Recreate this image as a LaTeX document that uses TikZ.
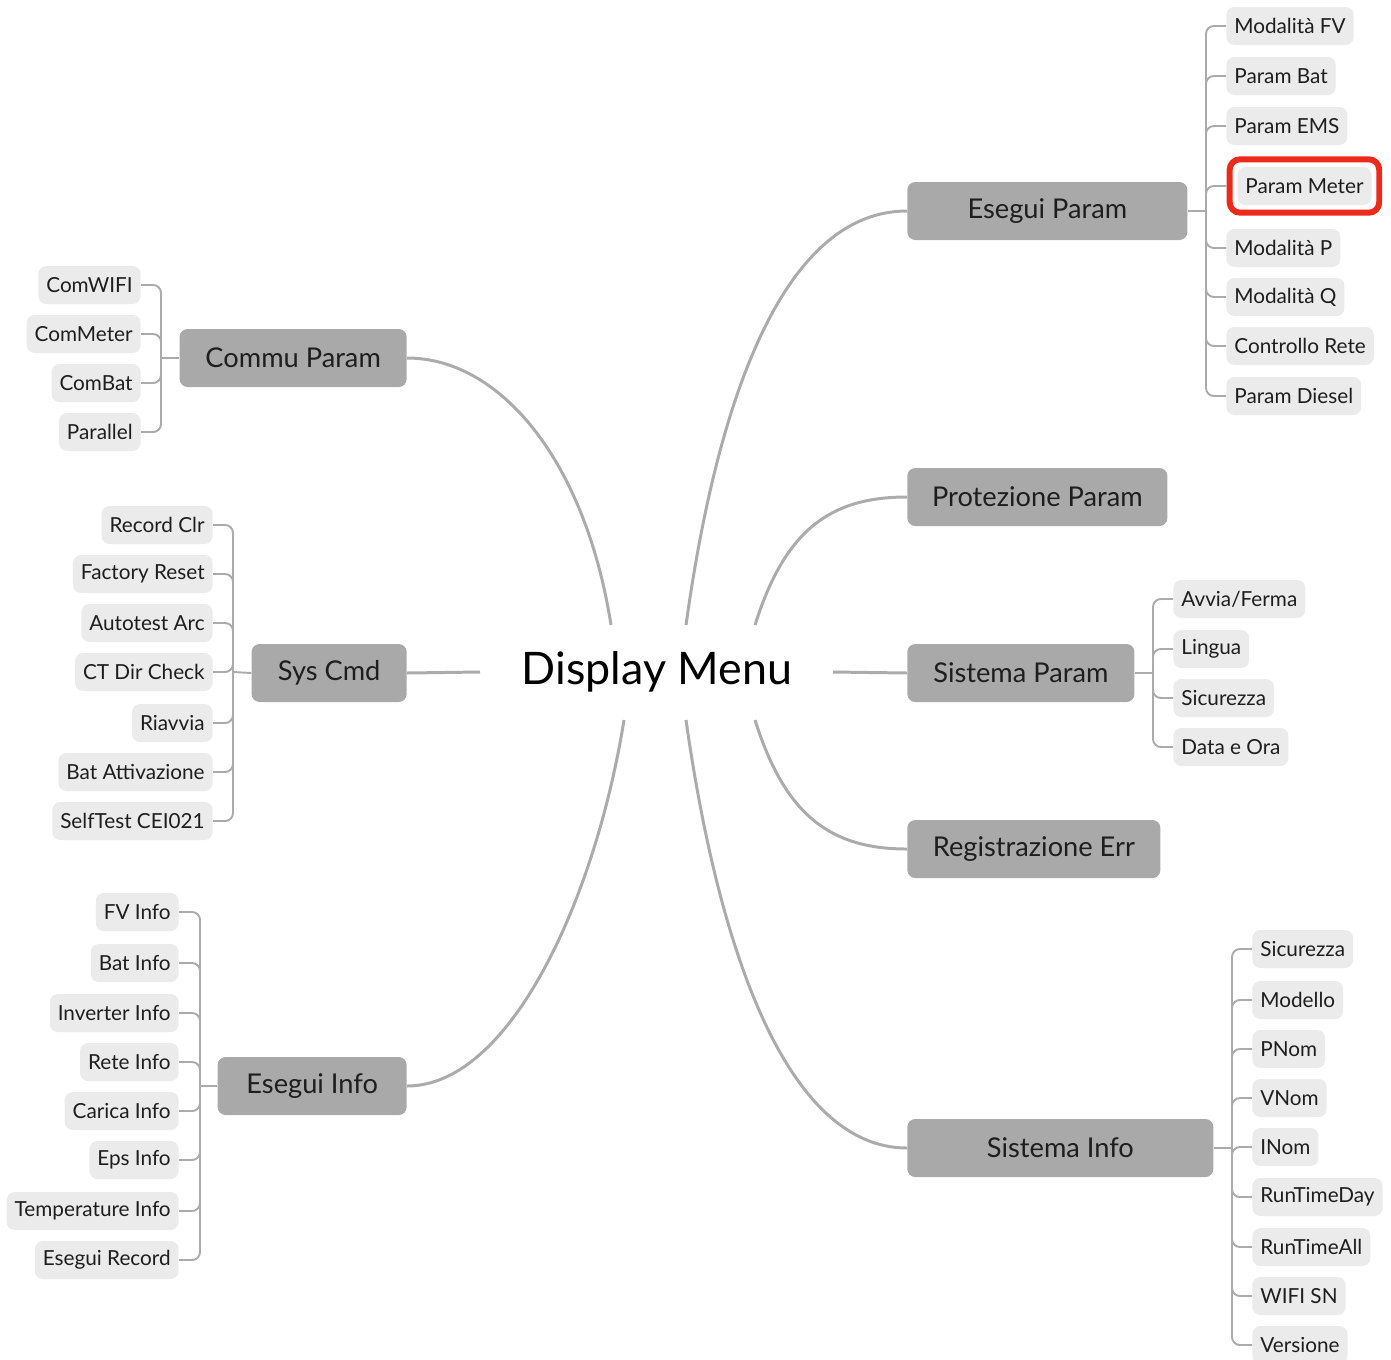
\documentclass[tikz,border=0pt]{standalone}
\usepackage{fontspec}
\setmainfont{Lato}
\usepackage{xcolor}
\definecolor{menuGray}{HTML}{A9A9A9}
\definecolor{leafGray}{HTML}{EBEBEB}
\definecolor{lineGray}{HTML}{ABABAB}
\definecolor{textDark}{HTML}{1E1E1E}
\definecolor{markRed}{HTML}{EC2A1C}
\usepackage{tikz}
\usetikzlibrary{fit, positioning}
\newlength{\pxunit}
\setlength{\pxunit}{0.02cm}

\begin{document}
\begin{tikzpicture}[
    x=0.02cm, y=-0.02cm,
    rootlabel/.style={
        font=\fontsize{25.5}{30}\selectfont,
        text=black
    },
    branchbox/.style={
        rectangle,
        fill=menuGray,
        rounded corners=4.5pt,
        minimum height=58\pxunit,
        inner xsep=0pt,
        text=textDark,
        font=\fontsize{15.5}{18}\selectfont
    },
    leafbox/.style={
        rectangle,
        fill=leafGray,
        rounded corners=4.5pt,
        minimum height=38\pxunit,
        inner xsep=8\pxunit,
        text=textDark,
        font=\fontsize{11.8}{14}\selectfont
    },
    leafright/.style={leafbox, anchor=west},
    leafleft/.style={leafbox, anchor=east},
    mainlink/.style={draw=lineGray, line width=1.7pt},
    leaflink/.style={draw=lineGray, line width=1.1pt, rounded corners=4.5pt},
    markframe/.style={
        draw=markRed,
        line width=3.4pt,
        rounded corners=6pt,
        inner sep=4.2pt
    }
]
\useasboundingbox (0,0) rectangle (1391,1359);

% centre
\node[rootlabel] (root) at (657,672) {Display Menu};
\coordinate (r-cp) at (611,625);
\coordinate (r-ep) at (686,625);
\coordinate (r-pp) at (755,625);
\coordinate (r-sp) at (833,672);
\coordinate (r-re) at (755,720);
\coordinate (r-si) at (686,720);
\coordinate (r-ei) at (624,720);
\coordinate (r-sc) at (480,672);

% main branches
\node[branchbox, anchor=west, minimum width=280\pxunit] (ep) at (907,211) {Esegui Param};
\node[branchbox, anchor=west, minimum width=260\pxunit] (pp) at (907,497) {Protezione Param};
\node[branchbox, anchor=west, minimum width=227\pxunit] (sp) at (907,673) {Sistema Param};
\node[branchbox, anchor=west, minimum width=253\pxunit] (re) at (907,849) {Registrazione Err};
\node[branchbox, anchor=west, minimum width=306\pxunit] (si) at (907,1148) {Sistema Info};
\node[branchbox, anchor=east, minimum width=227\pxunit] (cp) at (407,358) {Commu Param};
\node[branchbox, anchor=east, minimum width=155\pxunit] (sc) at (407,673) {Sys Cmd};
\node[branchbox, anchor=east, minimum width=189\pxunit] (ei) at (407,1086) {Esegui Info};

\draw[mainlink] (r-cp) .. controls (585,460) and (500,358) .. (cp.east);
\draw[mainlink] (r-ep) .. controls (720,380) and (790,211) .. (ep.west);
\draw[mainlink] (r-pp) .. controls (785,530) and (830,497) .. (pp.west);
\draw[mainlink] (r-sp) -- (sp.west);
\draw[mainlink] (r-re) .. controls (785,815) and (830,849) .. (re.west);
\draw[mainlink] (r-si) .. controls (720,960) and (790,1148) .. (si.west);
\draw[mainlink] (r-ei) .. controls (595,900) and (510,1086) .. (ei.east);
\draw[mainlink] (r-sc) -- (sc.east);

% Esegui Param leaves
\node[leafright] (mfv) at (1226,26) {Modalità FV};
\node[leafright] (pbat) at (1226,76) {Param Bat};
\node[leafright] (pems) at (1226,126) {Param EMS};
\node[leafright] (pmeter) at (1237,186) {Param Meter};
\node[markframe, fit=(pmeter)] (pmframe) {};
\node[leafright] (mp) at (1226,248) {Modalità P};
\node[leafright] (mq) at (1226,297) {Modalità Q};
\node[leafright] (crete) at (1226,346) {Controllo Rete};
\node[leafright] (pdiesel) at (1226,396) {Param Diesel};
\coordinate (ep-j) at (1206,211);
\draw[leaflink] (ep.east) -- (ep-j);
\draw[leaflink] (ep-j) |- (mfv.west) (ep-j) |- (pbat.west) (ep-j) |- (pems.west)
    (ep-j) |- (pmframe.west) (ep-j) |- (mp.west) (ep-j) |- (mq.west)
    (ep-j) |- (crete.west) (ep-j) |- (pdiesel.west);

% Commu Param leaves
\node[leafleft] (cwifi) at (141,285) {ComWIFI};
\node[leafleft] (cmeter) at (141,334) {ComMeter};
\node[leafleft] (cbat) at (141,383) {ComBat};
\node[leafleft] (cpar) at (141,432) {Parallel};
\coordinate (cp-j) at (161,358);
\draw[leaflink] (cp.west) -- (cp-j);
\draw[leaflink] (cp-j) |- (cwifi.east) (cp-j) |- (cmeter.east)
    (cp-j) |- (cbat.east) (cp-j) |- (cpar.east);

% Sys Cmd leaves
\node[leafleft] (rclr) at (213,525) {Record Clr};
\node[leafleft] (freset) at (213,574) {Factory Reset};
\node[leafleft] (aarc) at (213,623) {Autotest Arc};
\node[leafleft] (ctdir) at (213,672) {CT Dir Check};
\node[leafleft] (riavvia) at (213,723) {Riavvia};
\node[leafleft] (batatt) at (213,772) {Bat Attivazione};
\node[leafleft] (selftest) at (213,821) {SelfTest CEI021};
\coordinate (sc-j) at (233,672);
\draw[leaflink] (sc.west) -- (sc-j);
\draw[leaflink] (sc-j) |- (rclr.east) (sc-j) |- (freset.east) (sc-j) |- (aarc.east)
    (sc-j) |- (ctdir.east) (sc-j) |- (riavvia.east) (sc-j) |- (batatt.east)
    (sc-j) |- (selftest.east);

% Esegui Info leaves
\node[leafleft] (fvinfo) at (179,912) {FV Info};
\node[leafleft] (batinfo) at (179,963) {Bat Info};
\node[leafleft] (invinfo) at (179,1013) {Inverter Info};
\node[leafleft] (reteinfo) at (179,1062) {Rete Info};
\node[leafleft] (carinfo) at (179,1111) {Carica Info};
\node[leafleft] (epsinfo) at (179,1160) {Eps Info};
\node[leafleft] (tempinfo) at (179,1211) {Temperature Info};
\node[leafleft] (erecord) at (179,1260) {Esegui Record};
\coordinate (ei-j) at (200,1086);
\draw[leaflink] (ei.west) -- (ei-j);
\draw[leaflink] (ei-j) |- (fvinfo.east) (ei-j) |- (batinfo.east) (ei-j) |- (invinfo.east)
    (ei-j) |- (reteinfo.east) (ei-j) |- (carinfo.east) (ei-j) |- (epsinfo.east)
    (ei-j) |- (tempinfo.east) (ei-j) |- (erecord.east);

% Sistema Param leaves
\node[leafright] (avvia) at (1173,599) {Avvia/Ferma};
\node[leafright] (lingua) at (1173,649) {Lingua};
\node[leafright] (psicur) at (1173,698) {Sicurezza};
\node[leafright] (dataora) at (1173,747) {Data e Ora};
\coordinate (sp-j) at (1153,673);
\draw[leaflink] (sp.east) -- (sp-j);
\draw[leaflink] (sp-j) |- (avvia.west) (sp-j) |- (lingua.west)
    (sp-j) |- (psicur.west) (sp-j) |- (dataora.west);

% Sistema Info leaves
\node[leafright] (isicur) at (1252,949) {Sicurezza};
\node[leafright] (modello) at (1252,1000) {Modello};
\node[leafright] (pnom) at (1252,1049) {PNom};
\node[leafright] (vnom) at (1252,1098) {VNom};
\node[leafright] (inom) at (1252,1147) {INom};
\node[leafright] (rtday) at (1252,1197) {RunTimeDay};
\node[leafright] (rtall) at (1252,1247) {RunTimeAll};
\node[leafright] (wifisn) at (1252,1296) {WIFI SN};
\node[leafright] (versione) at (1252,1345) {Versione};
\coordinate (si-j) at (1232,1148);
\draw[leaflink] (si.east) -- (si-j);
\draw[leaflink] (si-j) |- (isicur.west) (si-j) |- (modello.west) (si-j) |- (pnom.west)
    (si-j) |- (vnom.west) (si-j) |- (inom.west) (si-j) |- (rtday.west)
    (si-j) |- (rtall.west) (si-j) |- (wifisn.west) (si-j) |- (versione.west);
\end{tikzpicture}
\end{document}
